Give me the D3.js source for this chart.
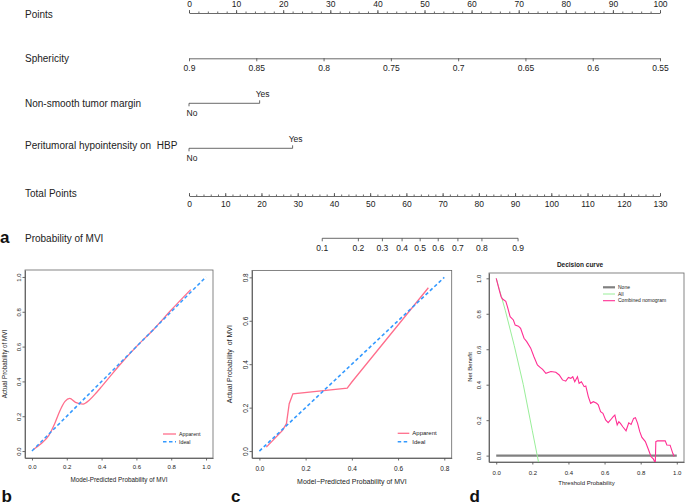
<!DOCTYPE html>
<html>
<head>
<meta charset="utf-8">
<script src="https://cdn.jsdelivr.net/npm/d3@7"></script>
<style>
  body { margin: 0; background: #fff; }
  svg { display: block; font-family: "Liberation Sans", Arial, Helvetica, sans-serif; }
</style>
</head>
<body>
<div id="container"></div>
<script>
/* CONSTANTS AND GLOBALS */
const width = 685,
  height = 504,
  ink = "#222",
  axisInk = "#444",
  boxInk = "#666"

/* DATA */
// a - nomogram
const rowLabels = ["Points", "Sphericity", "Non-smooth tumor margin",
  "Peritumoral hypointensity on  HBP", "Total Points", "Probability of MVI"]
const pointTicks = [0, 10, 20, 30, 40, 50, 60, 70, 80, 90, 100]
const sphericityTicks = [0.9, 0.85, 0.8, 0.75, 0.7, 0.65, 0.6, 0.55]
const marginLevels = ["No", "Yes"]
const marginPoints = [0, 15]
const periLevels = ["No", "Yes"]
const periPoints = [0, 22]
const totalTicks = [0, 10, 20, 30, 40, 50, 60, 70, 80, 90, 100, 110, 120, 130]
const probTicks = [0.1, 0.2, 0.3, 0.4, 0.5, 0.6, 0.7, 0.8, 0.9]
const probMidPoints = 63.8   // total points where P = 0.5
const probPointsPerLogit = 12.3

// b - calibration (training)
const calBPred = [0.01, 0.05, 0.097, 0.131, 0.16, 0.19, 0.217, 0.25, 0.294, 0.33, 0.37, 0.40, 0.45, 0.5, 0.6, 0.7, 0.8, 0.912]
const calBActual = [0.01, 0.04, 0.09, 0.158, 0.23, 0.285, 0.302, 0.28, 0.27, 0.293, 0.335, 0.37, 0.43, 0.49, 0.60, 0.70, 0.81, 0.927]
const calBTicks = [0, 0.2, 0.4, 0.6, 0.8, 1.0]

// c - calibration (validation)
const calCPred = [0.03, 0.10, 0.117, 0.129, 0.145, 0.38, 0.40, 0.731]
const calCActual = [0.018, 0.095, 0.126, 0.218, 0.264, 0.29, 0.318, 0.752]
const calCTicks = [0, 0.2, 0.4, 0.6, 0.8]

// d - decision curve
const dcaThreshold = [0.000, 0.015, 0.027, 0.035, 0.053, 0.062, 0.077, 0.095, 0.105, 0.123, 0.135, 0.154,
  0.169, 0.191, 0.209, 0.228, 0.243, 0.257, 0.275, 0.303, 0.330, 0.349, 0.367, 0.385, 0.400, 0.413,
  0.424, 0.435, 0.450, 0.459, 0.472, 0.487, 0.496, 0.510, 0.523, 0.538, 0.556, 0.565, 0.578, 0.591,
  0.606, 0.620, 0.633, 0.648, 0.657, 0.670, 0.679, 0.688, 0.701, 0.719, 0.734, 0.747, 0.761, 0.771,
  0.783, 0.795, 0.807, 0.826, 0.844, 0.857, 0.871, 0.881, 0.884, 0.893, 0.936, 0.945, 0.963, 0.978, 0.985]
const dcaNomogram = [1.000, 0.940, 0.896, 0.883, 0.870, 0.840, 0.784, 0.765, 0.736, 0.730, 0.718, 0.662,
  0.643, 0.606, 0.558, 0.511, 0.498, 0.486, 0.464, 0.474, 0.470, 0.455, 0.427, 0.420, 0.441, 0.436,
  0.445, 0.417, 0.445, 0.408, 0.417, 0.389, 0.393, 0.333, 0.295, 0.304, 0.295, 0.286, 0.248, 0.239,
  0.201, 0.186, 0.201, 0.220, 0.229, 0.173, 0.191, 0.182, 0.163, 0.140, 0.185, 0.176, 0.210, 0.214,
  0.182, 0.135, 0.103, 0.079, 0.032, -0.005, -0.020, -0.043, 0.079, 0.083, 0.083, 0.060, 0.059, 0.013, -0.005]
const dcaAllThreshold = [0, 0.05, 0.10, 0.15, 0.20, 0.235]
const dcaAll = [1.0, 0.82, 0.62, 0.40, 0.14, -0.04]
const dcaNoneThreshold = [0, 1]
const dcaNone = [0, 0]
const dcaTicks = [0, 0.2, 0.4, 0.6, 0.8, 1.0]

/* SVG */
const svg = d3.select("#container")
  .append("svg")
  .attr("width", width)
  .attr("height", height)

/* PANEL A - NOMOGRAM */
const rowY = [13, 58.3, 103.3, 148.3, 196, 238.3]
const labelY = [14, 58, 103, 145, 193, 238]

const xPts = d3.scaleLinear().domain([0, 100]).range([189, 660])
const xSph = d3.scaleLinear().domain([0.9, 0.55]).range([xPts(0), xPts(100)])
const xTot = d3.scaleLinear().domain([0, 130]).range([189, 660])
const xProb = p => xTot(probMidPoints + probPointsPerLogit * Math.log(p / (1 - p)))

svg.selectAll("text.rowlabel")
  .data(rowLabels)
  .join("text")
  .attr("class", "rowlabel")
  .attr("x", 25)
  .attr("y", (d, i) => labelY[i])
  .attr("dy", "0.35em")
  .style("white-space", "pre")
  .attr("font-size", 10)
  .attr("fill", ink)
  .text(d => d)

function styleAxis(g, fs) {
  g.attr("font-family", null).attr("font-size", fs)
  g.selectAll("path.domain").attr("stroke", axisInk).attr("stroke-width", 0.8)
  g.selectAll(".tick line").attr("stroke", axisInk).attr("stroke-width", 0.8)
  g.selectAll(".tick text").attr("fill", ink)
}

// points
svg.append("g")
  .attr("transform", `translate(0,${rowY[0]})`)
  .call(d3.axisTop(xPts).tickValues(pointTicks).tickSize(3).tickSizeOuter(0).tickPadding(3))
  .call(g => styleAxis(g, 8.5))
svg.append("g")
  .attr("transform", `translate(0,${rowY[0]})`)
  .call(d3.axisTop(xPts).ticks(50).tickSize(1.5).tickFormat(""))
  .call(g => styleAxis(g, 8.5))
  .call(g => g.select(".domain").remove())

// sphericity
svg.append("g")
  .attr("transform", `translate(0,${rowY[1]})`)
  .call(d3.axisBottom(xSph).tickValues(sphericityTicks).tickSize(3).tickSizeOuter(0).tickPadding(4)
    .tickFormat(d => String(d)))
  .call(g => styleAxis(g, 8.5))

// categorical rows
function catRow(levels, pts, y) {
  const g = svg.append("g")
  g.append("line")
    .attr("x1", xPts(pts[0])).attr("x2", xPts(pts[1]))
    .attr("y1", y).attr("y2", y)
    .attr("stroke", axisInk).attr("stroke-width", 0.8)
  g.selectAll("line.tk")
    .data(pts)
    .join("line")
    .attr("class", "tk")
    .attr("x1", d => xPts(d)).attr("x2", d => xPts(d))
    .attr("y1", y).attr("y2", (d, i) => i === 0 ? y + 3 : y - 3)
    .attr("stroke", axisInk).attr("stroke-width", 0.8)
  g.selectAll("text")
    .data(levels)
    .join("text")
    .attr("x", (d, i) => xPts(pts[i]) + 3)
    .attr("y", (d, i) => i === 0 ? y + 13 : y - 6)
    .attr("text-anchor", "middle")
    .attr("font-size", 8.5)
    .attr("fill", ink)
    .text(d => d)
}
catRow(marginLevels, marginPoints, rowY[2])
catRow(periLevels, periPoints, rowY[3])

// total points
svg.append("g")
  .attr("transform", `translate(0,${rowY[4]})`)
  .call(d3.axisBottom(xTot).tickValues(totalTicks).tickSize(-3).tickSizeOuter(0).tickPadding(5))
  .call(g => styleAxis(g, 8.5))
svg.append("g")
  .attr("transform", `translate(0,${rowY[4]})`)
  .call(d3.axisBottom(xTot).ticks(65).tickSize(-1.5).tickFormat(""))
  .call(g => styleAxis(g, 8.5))
  .call(g => g.select(".domain").remove())

// probability of MVI
const probG = svg.append("g").attr("transform", `translate(0,${rowY[5]})`)
probG.append("line")
  .attr("x1", xProb(probTicks[0])).attr("x2", xProb(probTicks[probTicks.length - 1]))
  .attr("stroke", axisInk).attr("stroke-width", 0.8)
probG.selectAll("line.tk")
  .data(probTicks)
  .join("line")
  .attr("class", "tk")
  .attr("x1", d => xProb(d)).attr("x2", d => xProb(d))
  .attr("y1", 0).attr("y2", 3)
  .attr("stroke", axisInk).attr("stroke-width", 0.8)
probG.selectAll("text")
  .data(probTicks)
  .join("text")
  .attr("x", d => xProb(d))
  .attr("y", 13)
  .attr("text-anchor", "middle")
  .attr("font-size", 8.5)
  .attr("fill", ink)
  .text(d => String(d))

/* SMALL PLOTS */
function drawPanel(p) {
  const g = svg.append("g")
  const x = d3.scaleLinear().domain(p.xDomain).range([p.left, p.right])
  const y = d3.scaleLinear().domain(p.yDomain).range([p.bottom, p.top])

  g.append("clipPath").attr("id", p.id)
    .append("rect")
    .attr("x", p.left).attr("y", p.top)
    .attr("width", p.right - p.left).attr("height", p.bottom - p.top)

  g.append("g")
    .attr("transform", `translate(0,${p.bottom})`)
    .call(d3.axisBottom(x).tickValues(p.xTicks).tickSize(2.5).tickSizeOuter(0).tickPadding(p.xPad)
      .tickFormat(d3.format(".1f")))
    .call(a => styleAxis(a, p.tickFont))

  g.append("g")
    .attr("transform", `translate(${p.left},0)`)
    .call(d3.axisLeft(y).tickValues(p.yTicks).tickSize(2.5).tickSizeOuter(0)
      .tickFormat(d3.format(".1f")))
    .call(a => styleAxis(a, p.tickFont))
    .call(a => a.selectAll(".tick text")
      .attr("transform", "rotate(-90)")
      .attr("text-anchor", "middle")
      .attr("x", 0)
      .attr("y", -p.yPad)
      .attr("dy", 0))

  g.append("rect")
    .attr("x", p.left).attr("y", p.top)
    .attr("width", p.right - p.left).attr("height", p.bottom - p.top)
    .attr("fill", "none").attr("stroke", boxInk).attr("stroke-width", 0.8)

  g.append("text")
    .attr("x", (p.left + p.right) / 2)
    .attr("y", p.xLabelY)
    .attr("text-anchor", "middle")
    .attr("font-size", p.labelFont)
    .attr("fill", ink)
    .style("white-space", "pre")
    .text(p.xLabel)

  g.append("text")
    .attr("transform", `translate(${p.yLabelX},${(y(p.yTicks[0]) + y(p.yTicks[p.yTicks.length - 1])) / 2}) rotate(-90)`)
    .attr("text-anchor", "middle")
    .attr("font-size", p.labelFont)
    .attr("fill", ink)
    .style("white-space", "pre")
    .text(p.yLabel)

  const plot = g.append("g").attr("clip-path", `url(#${p.id})`)
  p.series.forEach(s => {
    const pts = s.xs.map((v, i) => [v, s.ys[i]])
    plot.append("path")
      .datum(pts)
      .attr("fill", "none")
      .attr("stroke", s.color)
      .attr("stroke-width", s.width)
      .attr("stroke-dasharray", s.dash || null)
      .attr("d", d3.line().x(d => x(d[0])).y(d => y(d[1])).curve(s.curve || d3.curveLinear))
  })

  // legend
  const lg = g.append("g")
  p.series.filter(s => s.name).forEach((s, i) => {
    const ly = p.legend.y + i * p.legend.step
    lg.append("line")
      .attr("x1", p.legend.x).attr("x2", p.legend.x + p.legend.len)
      .attr("y1", ly).attr("y2", ly)
      .attr("stroke", s.color).attr("stroke-width", s.width)
      .attr("stroke-dasharray", s.dash || null)
    lg.append("text")
      .attr("x", p.legend.x + p.legend.len + 3)
      .attr("y", ly)
      .attr("dy", "0.35em")
      .attr("font-size", p.legend.font)
      .attr("fill", ink)
      .text(s.name)
  })
  return { x, y, g }
}

const pink = "#ff6e8c", blue = "#3399ff"

drawPanel({
  id: "clipB", left: 25, right: 213, top: 270, bottom: 458,
  xDomain: [-0.04, 1.04], yDomain: [-0.04, 1.04],
  xTicks: calBTicks, yTicks: calBTicks, xPad: 4, yPad: 4.5, tickFont: 6,
  xLabel: "Model-Predicted Probability of MVI", xLabelY: 482,
  yLabel: "Actual Probability of MVI", yLabelX: 7.3, labelFont: 6.3,
  legend: { x: 163, len: 13, y: 434, step: 7.7, font: 5.3 },
  series: [
    { name: "Apparent", xs: calBPred, ys: calBActual, color: pink, width: 1.3, curve: d3.curveMonotoneX },
    { name: "Ideal", xs: [0, 1], ys: [0, 1], color: blue, width: 1.5, dash: "3.5,2.5" }
  ]
})

drawPanel({
  id: "clipC", left: 252, right: 451.7, top: 270.4, bottom: 458,
  xDomain: [-0.032, 0.832], yDomain: [-0.032, 0.832],
  xTicks: calCTicks, yTicks: calCTicks, xPad: 6, yPad: 4.5, tickFont: 6.5,
  xLabel: "Model\u2212Predicted Probability of MVI", xLabelY: 484,
  yLabel: "Actual Probability  of MVI", yLabelX: 231.5, labelFont: 7,
  legend: { x: 397.7, len: 11.6, y: 433.3, step: 8.4, font: 6 },
  series: [
    { name: "Apparent", xs: calCPred, ys: calCActual, color: pink, width: 1.3 },
    { name: "Ideal", xs: [0, 0.8], ys: [0, 0.8], color: blue, width: 1.6, dash: "3.5,2.5" }
  ]
})

drawPanel({
  id: "clipD", left: 489, right: 684, top: 273, bottom: 462,
  xDomain: [-0.04, 1.04], yDomain: [-0.036, 1.03],
  xTicks: dcaTicks, yTicks: dcaTicks, xPad: 6.3, yPad: 8.5, tickFont: 6,
  xLabel: "Threshold Probability", xLabelY: 485.3,
  yLabel: "Net Benefit", yLabelX: 472.2, labelFont: 6,
  legend: { x: 603, len: 12, y: 287.3, step: 6.7, font: 5 },
  series: [
    { name: "None", xs: dcaNoneThreshold, ys: dcaNone, color: "#808080", width: 2.2 },
    { name: "All", xs: dcaAllThreshold, ys: dcaAll, color: "#99ee99", width: 1 },
    { name: "Combined nomogram", xs: dcaThreshold, ys: dcaNomogram, color: "#ff2e93", width: 1.1 }
  ]
})

svg.append("text")
  .attr("x", 580).attr("y", 267)
  .attr("text-anchor", "middle")
  .attr("font-size", 6.5)
  .attr("font-weight", "bold")
  .attr("fill", ink)
  .text("Decision curve")

/* PANEL LETTERS */
const panelLetters = ["a", "b", "c", "d"]
const letterPos = [[0, 243], [1.5, 501.5], [231, 501.5], [469.5, 501.5]]
svg.selectAll("text.letter")
  .data(panelLetters)
  .join("text")
  .attr("class", "letter")
  .attr("x", (d, i) => letterPos[i][0])
  .attr("y", (d, i) => letterPos[i][1])
  .attr("font-size", 17)
  .attr("font-weight", "bold")
  .attr("fill", "#111")
  .text(d => d)
</script>
</body>
</html>
